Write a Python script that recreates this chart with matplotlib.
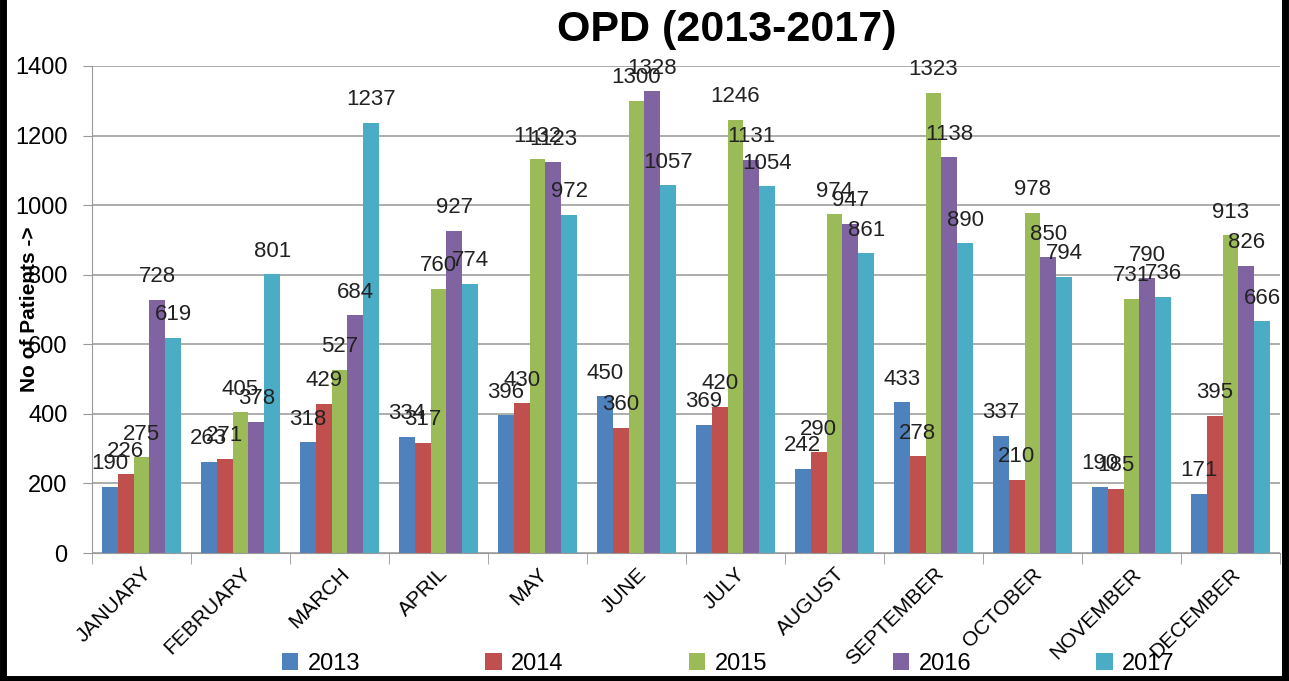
import numpy as np
import matplotlib.pyplot as plt
from matplotlib.lines import Line2D

# Данные
months = ['JANUARY', 'FEBRUARY', 'MARCH', 'APRIL', 'MAY', 'JUNE', 'JULY',
          'AUGUST', 'SEPTEMBER', 'OCTOBER', 'NOVEMBER', 'DECEMBER']
years = ['2013', '2014', '2015', '2016', '2017']
y2013 = [190, 263, 318, 334, 396, 450, 369, 242, 433, 337, 190, 171]
y2014 = [226, 271, 429, 317, 430, 360, 420, 290, 278, 210, 185, 395]
y2015 = [275, 405, 527, 760, 1132, 1300, 1246, 974, 1323, 978, 731, 913]
y2016 = [728, 378, 684, 927, 1123, 1328, 1131, 947, 1138, 850, 790, 826]
y2017 = [619, 801, 1237, 774, 972, 1057, 1054, 861, 890, 794, 736, 666]
series = [y2013, y2014, y2015, y2016, y2017]
colors = ['#4F81BD', '#C0504D', '#9BBB59', '#8064A2', '#4BACC6']

plt.rcParams['font.family'] = ['Liberation Sans', 'DejaVu Sans']

fig = plt.figure(figsize=(12.89, 6.81), dpi=100)
ax = fig.add_axes([92 / 1289, 1 - 553 / 681, (1280 - 92) / 1289, (553 - 66) / 681])

x = np.arange(len(months))
w = 0.16
for i, (vals, col, yr) in enumerate(zip(series, colors, years)):
    pos = x - 0.4 + w * (i + 0.5)
    ax.bar(pos, vals, w, color=col, label=yr, zorder=2)
    for p, v in zip(pos, vals):
        ax.annotate(str(v), (p, v), xytext=(0, 9), textcoords='offset points',
                    ha='center', va='bottom', fontsize=16, color='#222222',
                    zorder=3)

ax.set_xlim(-0.5, len(months) - 0.5)
ax.set_ylim(0, 1400)
ax.set_yticks(range(0, 1401, 200))
ax.tick_params(axis='y', labelsize=17, length=6.5, color='#999999', pad=11)
ax.yaxis.grid(True, color='#a0a0a0', linewidth=1.2, zorder=0)

ax.set_xticks(x)
ax.set_xticklabels(months, rotation=45, ha='right', rotation_mode='anchor',
                   fontsize=15)
ax.tick_params(axis='x', length=0, pad=8)
ax.set_xticks(np.arange(-0.5, len(months)), minor=True)
ax.tick_params(axis='x', which='minor', length=8, color='#999999')

for s in ['top', 'right']:
    ax.spines[s].set_visible(False)
ax.spines['left'].set_color('#999999')
ax.spines['bottom'].set_color('#999999')

ax.set_ylabel('No of Patients ->', fontsize=15, fontweight='bold')
ax.yaxis.set_label_coords(-0.045, 0.5)
fig.text(727 / 1289, 1 - 30 / 681, 'OPD (2013-2017)', fontsize=31,
         fontweight='bold', ha='center', va='center')

fig.legend(loc='center', bbox_to_anchor=(0.565, 1 - 664 / 681), ncol=5,
           frameon=False, fontsize=17, handlelength=0.7, handleheight=0.7,
           columnspacing=5.3, handletextpad=0.4)

# чёрная рамка слева, справа и снизу
for xs, ys in [([0.002, 0.002], [0, 1]), ([0.997, 0.997], [0, 1]),
               ([0, 1], [0.003, 0.003])]:
    fig.add_artist(Line2D(xs, ys, transform=fig.transFigure, color='black',
                          linewidth=5))

fig.savefig('out.png', dpi=100)
